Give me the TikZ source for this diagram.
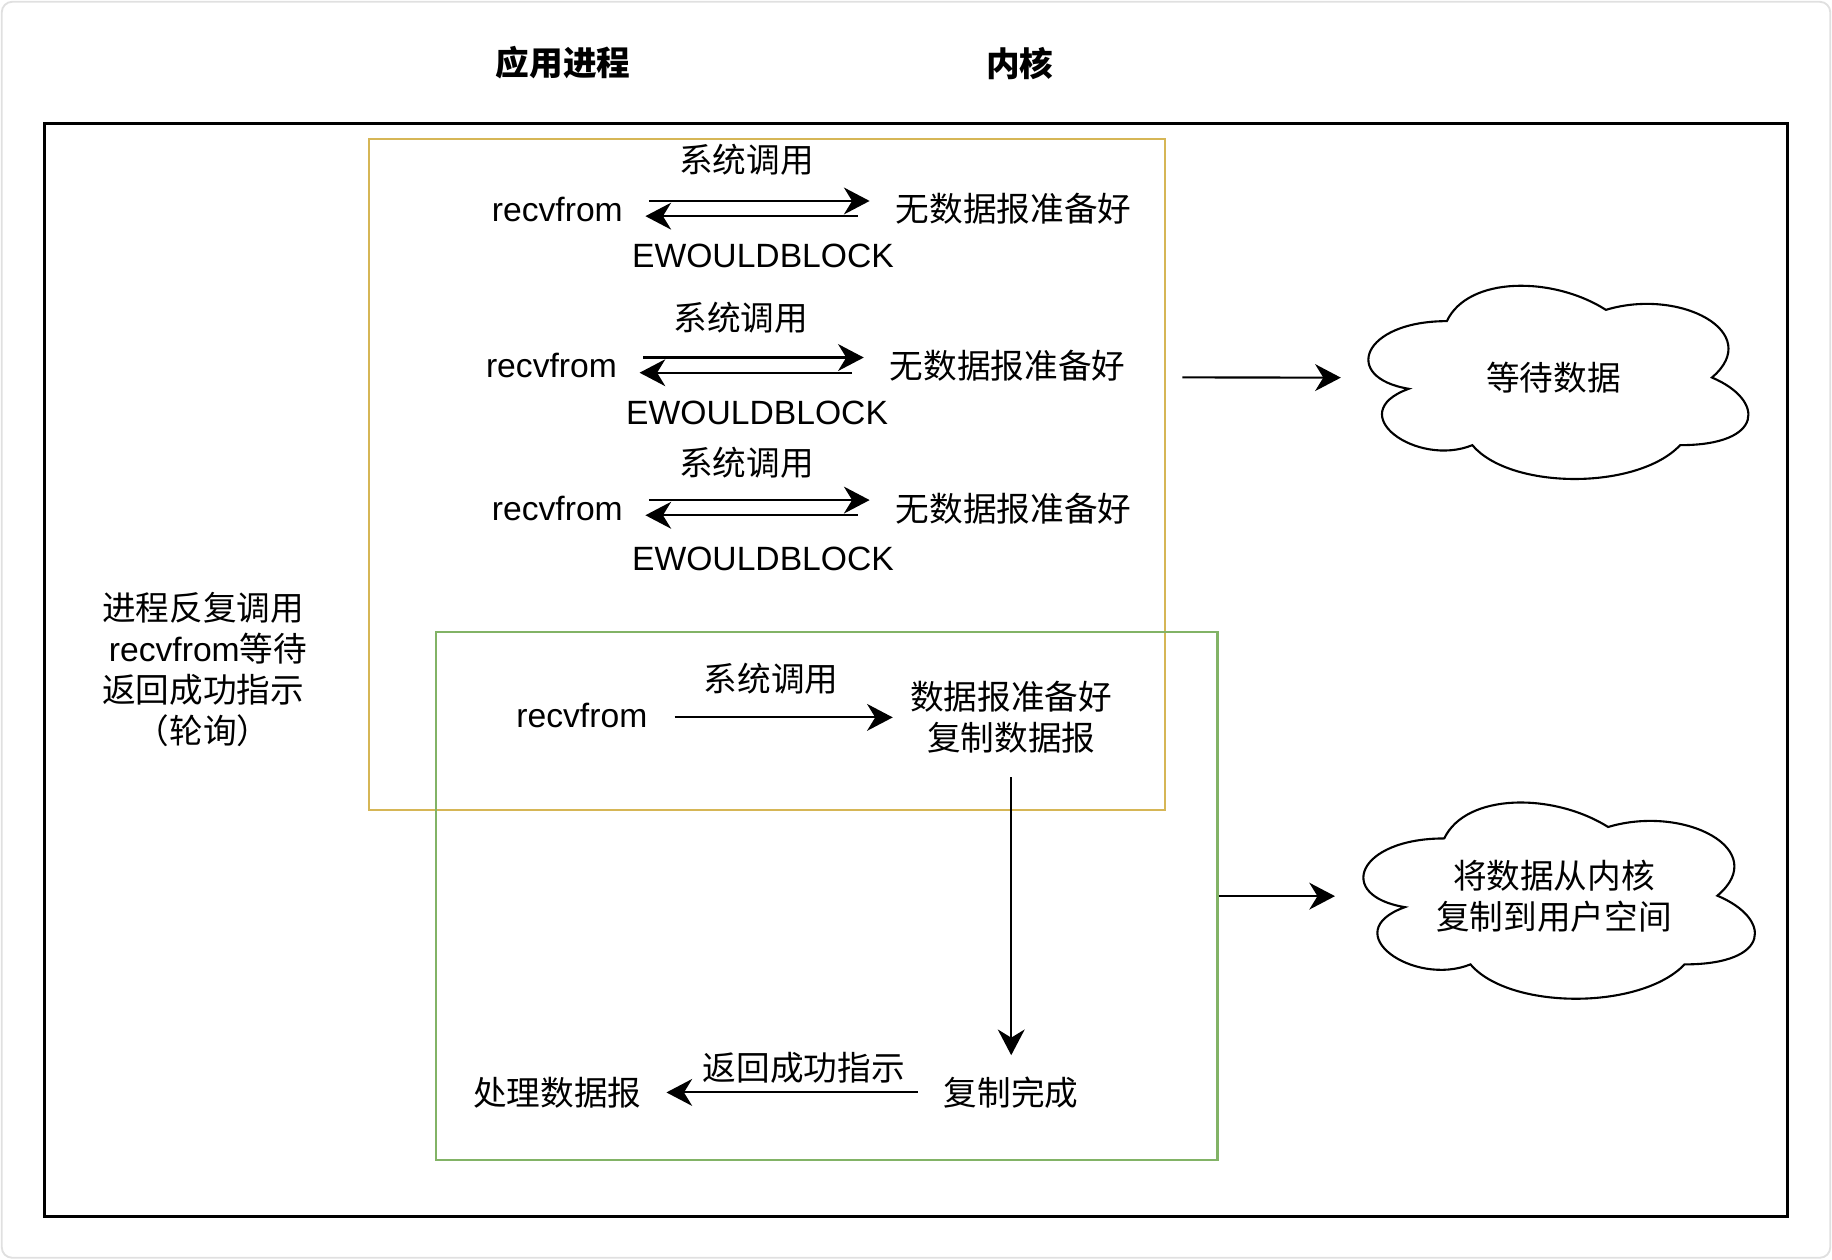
\documentclass[tikz,border=0pt]{standalone}
\usepackage{fontspec}
\setmainfont{Liberation Sans}
\newfontfamily\cjk{Noto Sans CJK SC}
\usetikzlibrary{arrows.meta,positioning}
\definecolor{yel}{HTML}{D6B656}
\definecolor{grn}{HTML}{82B366}
\tikzset{
  en/.style  ={inner sep=0pt,font=\fontsize{14.4}{17.5}\selectfont},
  zh/.style  ={inner sep=0pt,align=center,font=\fontsize{14.4}{17.5}\selectfont\cjk},
  hd/.style  ={inner sep=0pt,font=\fontsize{14.4}{17.5}\selectfont\cjk\bfseries},
  grp/.style ={draw,line width=1pt,inner sep=0pt},
  flow/.style={line width=0.9pt,-{Stealth[length=11pt,width=11.5pt,inset=3.5pt]}},
  cloudbox/.style 2 args={zh,minimum width=#1,minimum height=#2}
}
% cloud outline over a named node: node, width, height
\newcommand{\cloudat}[3]{%
  \begin{scope}[shift={(#1.north west)},x=#2,y=-#3]
    \draw[line width=0.9pt]
      (0.25,0.25) .. controls (0.05,0.25) and (0,0.5) .. (0.16,0.55)
      .. controls (0,0.66) and (0.18,0.9) .. (0.31,0.8)
      .. controls (0.4,1) and (0.7,1) .. (0.8,0.8)
      .. controls (1,0.8) and (1,0.6) .. (0.875,0.5)
      .. controls (1,0.3) and (0.8,0.1) .. (0.625,0.2)
      .. controls (0.5,0.05) and (0.3,0.05) .. (0.25,0.25) -- cycle;
  \end{scope}}

\begin{document}
\begin{tikzpicture}[x=0.5pt,y=-0.5pt]
\useasboundingbox (0,0) rectangle (1568,1078);
\draw[black!12,line width=0.8pt,rounded corners=4.5pt] (1.5,1.5) rectangle (1566.5,1076.5);

% -------- headings --------
\node[hd] (app) at (482,54) {应用进程};
\node[hd] (ker) at (873,54) {内核};

% -------- frames --------
\node[grp,line width=1.3pt,minimum width=746pt,minimum height=467.5pt] (outer) at (784,573.5) {};
\node[grp,draw=yel,minimum width=340.5pt,minimum height=287pt] (poll) at (656.5,406) {};
\node[grp,draw=grn,minimum width=334.5pt,minimum height=226pt] (copy) at (707.5,767) {};

% -------- polling rounds --------
\node[zh] (sys1) at (639,137) {系统调用};
\node[en] (rv1)  at (477,179) {recvfrom};
\node[zh] (nd1)  at (867.5,179) {无数据报准备好};
\node[en] (eb1)  at (653,219) {EWOULDBLOCK};

\node[zh] (sys2) at (634,272) {系统调用};
\node[en] (rv2)  at (472,313) {recvfrom};
\node[zh] (nd2)  at (862.5,313) {无数据报准备好};
\node[en] (eb2)  at (648,353) {EWOULDBLOCK};

\node[zh] (sys3) at (639,396) {系统调用};
\node[en] (rv3)  at (477,435) {recvfrom};
\node[zh] (nd3)  at (867.5,435) {无数据报准备好};
\node[en] (eb3)  at (653,478) {EWOULDBLOCK};

\foreach \r/\n in {rv1/nd1,rv2/nd2,rv3/nd3} {
  \draw[flow,shorten <=11pt,shorten >=11pt] ([yshift=3.5pt]\r.east) -- ([yshift=3.5pt]\n.west);
  \draw[flow,shorten <=16pt,shorten >=9.5pt] ([yshift=-3pt]\n.west) -- ([yshift=-3pt]\r.east);
}

% -------- data ready --------
\node[zh] (sys4) at (660,581) {系统调用};
\node[en] (rv4)  at (498,612) {recvfrom};
\node[zh] (rdy)  at (865.5,614) {数据报准备好\\复制数据报};
\node[zh] (done) at (865.5,935) {复制完成};
\node[zh] (proc) at (477,935) {处理数据报};
\node[zh] (ret)  at (688,914) {返回成功指示};

\draw[flow,shorten <=11.5pt,shorten >=7.3pt] (rv4.east |- rdy.west) -- (rdy.west);
\draw[flow,shorten <=10pt,shorten >=9pt] (rdy.south) -- (done.north);
\draw[flow,shorten <=11pt,shorten >=10.5pt] (done.west) -- (proc.east);

% -------- left note --------
\node[zh] (note) at (174,573) {进程反复调用\\\hspace*{4pt}{\normalfont recvfrom}等待\\返回成功指示\\（轮询）};

% -------- clouds --------
\node[cloudbox={181.5pt}{96.5pt}] (wait) at (1329.5,323.5) {等待数据};
\node[cloudbox={187pt}{98pt}] (cp) at (1330,767) {将数据从内核\\复制到用户空间};
\cloudat{wait}{181.5pt}{96.5pt}
\cloudat{cp}{187pt}{98pt}

\coordinate (wq) at (1012,323);
\draw[flow] (wq) -- (wait);
\draw[flow] (copy.east) -- (cp);

\end{tikzpicture}
\end{document}
